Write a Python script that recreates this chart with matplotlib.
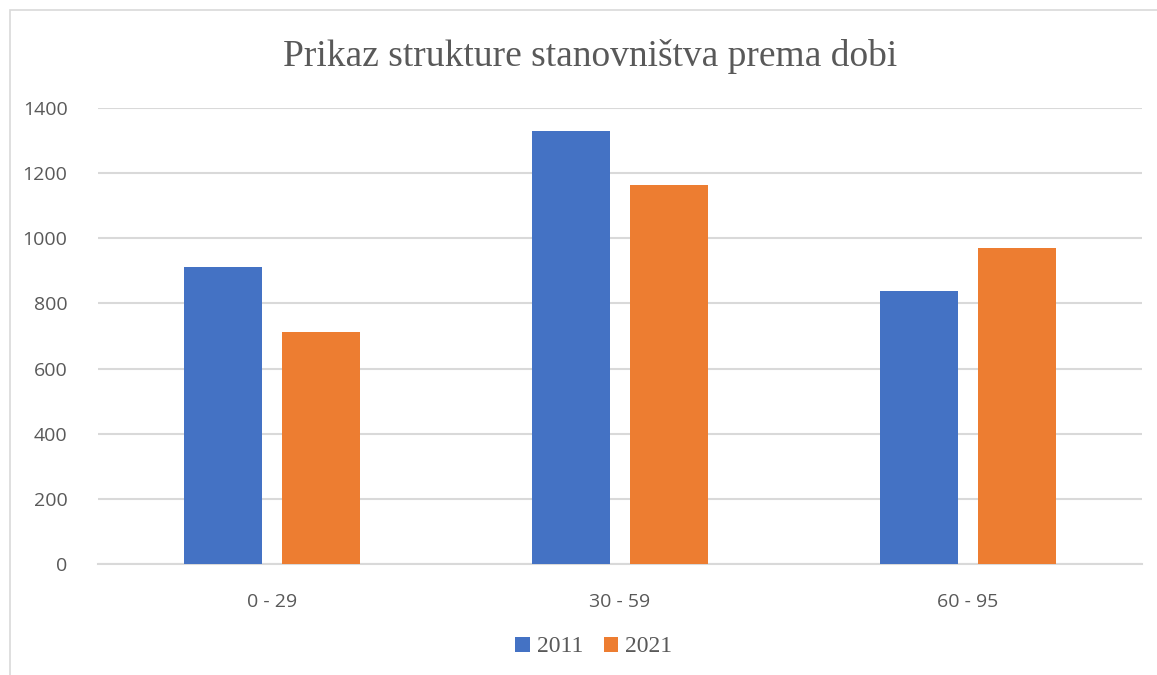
import numpy as np
import matplotlib.pyplot as plt
from matplotlib.patches import Rectangle

categories = ['0 - 29', '30 - 59', '60 - 95']
years = ['2011', '2021']
values_2011 = [912, 1329, 838]
values_2021 = [712, 1164, 970]
colors = ['#4472C4', '#ED7D31']

fig = plt.figure(figsize=(11.57, 6.75), dpi=100)
ax = fig.add_axes([0.0847, 0.1644, 0.9023, 0.6756])

# chart border (cut off at right/bottom like the screenshot)
fig.patches.append(Rectangle((10 / 1157, -0.1), 1.2, 0.1 + (675 - 10) / 675,
                             transform=fig.transFigure, fill=False,
                             edgecolor='#d9d9d9', linewidth=1.2))

x = np.arange(len(categories))
w = 0.224
off = 0.141
ax.bar(x - off, values_2011, w, color=colors[0], label=years[0], zorder=3)
ax.bar(x + off, values_2021, w, color=colors[1], label=years[1], zorder=3)

ax.set_xlim(-0.5, 2.5)
ax.set_ylim(0, 1400)
ax.set_yticks(np.arange(0, 1401, 200))
ax.set_xticks(x)
ax.set_xticklabels(categories)
ax.grid(axis='y', color='#d9d9d9', linewidth=1.5, zorder=0)
for s in ['top', 'right', 'left']:
    ax.spines[s].set_visible(False)
ax.spines['bottom'].set_color('#d9d9d9')
ax.spines['bottom'].set_linewidth(1.5)
ax.tick_params(length=0, labelsize=14, labelcolor='#595959')
ax.tick_params(axis='x', pad=21)
ax.tick_params(axis='y', pad=22)
for lbl in ax.get_xticklabels() + ax.get_yticklabels():
    lbl.set_family('Open Sans')

fig.text(590 / 1157, 1 - 56 / 675, 'Prikaz strukture stanovništva prema dobi',
         ha='center', va='center', family='Liberation Serif',
         fontsize=27, color='#595959')

fig.legend(loc='center', bbox_to_anchor=(594 / 1157, 1 - 647 / 675), ncol=2,
           frameon=False, prop={'family': 'Liberation Serif', 'size': 17},
           labelcolor='#595959', handlelength=0.6, handleheight=0.6,
           handletextpad=0.3, columnspacing=0.9)

fig.savefig('out.png')
